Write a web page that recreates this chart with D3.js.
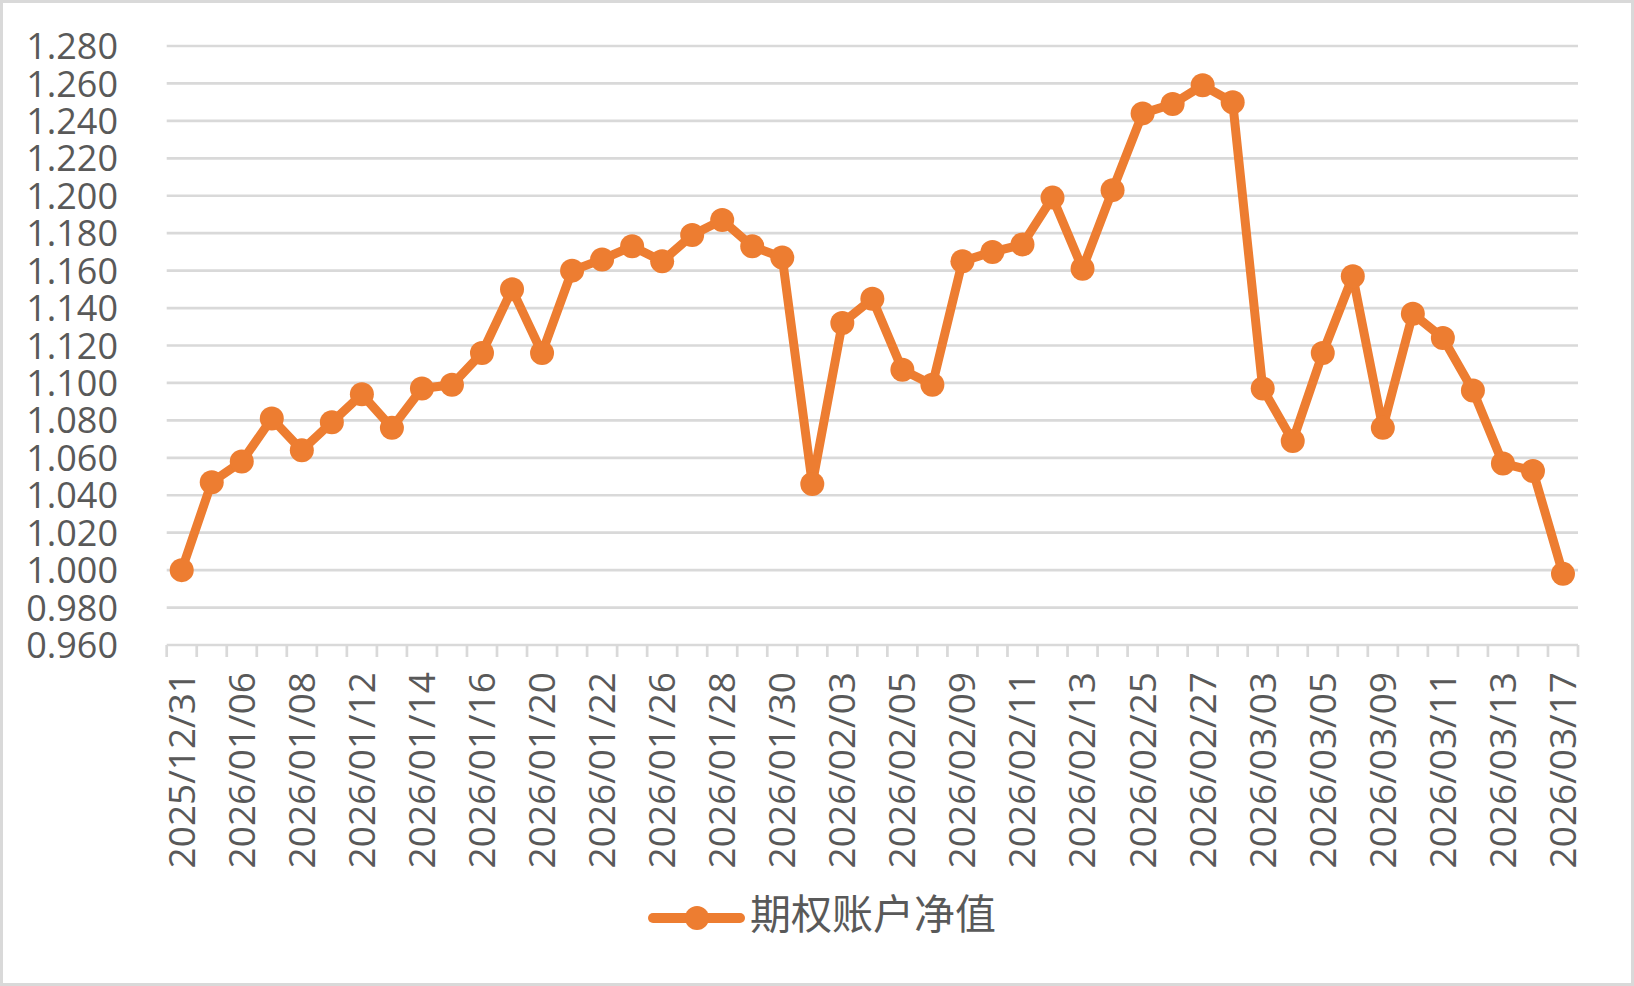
<!DOCTYPE html>
<html>
<head>
<meta charset="utf-8">
<script src="https://cdn.jsdelivr.net/npm/d3@7"></script>
<style>
  html, body { margin: 0; padding: 0; background: #fff; }
  svg { display: block; }
</style>
</head>
<body>
<svg id="chart" width="1634" height="986"></svg>
<script>
const dates = ["2025/12/31","2026/01/05","2026/01/06","2026/01/07","2026/01/08","2026/01/09","2026/01/12","2026/01/13","2026/01/14","2026/01/15","2026/01/16","2026/01/19","2026/01/20","2026/01/21","2026/01/22","2026/01/23","2026/01/26","2026/01/27","2026/01/28","2026/01/29","2026/01/30","2026/02/02","2026/02/03","2026/02/04","2026/02/05","2026/02/06","2026/02/09","2026/02/10","2026/02/11","2026/02/12","2026/02/13","2026/02/24","2026/02/25","2026/02/26","2026/02/27","2026/03/02","2026/03/03","2026/03/04","2026/03/05","2026/03/06","2026/03/09","2026/03/10","2026/03/11","2026/03/12","2026/03/13","2026/03/16","2026/03/17"];
const netValues = [1.000,1.047,1.058,1.081,1.064,1.079,1.094,1.076,1.097,1.099,1.116,1.150,1.116,1.160,1.166,1.173,1.165,1.179,1.187,1.173,1.167,1.046,1.132,1.145,1.107,1.099,1.165,1.170,1.174,1.199,1.161,1.203,1.244,1.249,1.259,1.250,1.097,1.069,1.116,1.157,1.076,1.137,1.124,1.096,1.057,1.053,0.998];
const yTicks = [0.96,0.98,1.00,1.02,1.04,1.06,1.08,1.10,1.12,1.14,1.16,1.18,1.20,1.22,1.24,1.26,1.28];
const seriesName = "期权账户净值";

(function () {
const W = 1634, H = 986;
const pL = 166.7, pR = 1578, pT = 46, pB = 645;
const orange = "#ED7D31", grid = "#D9D9D9", textCol = "#595959";
const latin = "'Open Sans', 'Noto Sans', sans-serif";

const svg = d3.select("#chart");

svg.append("rect").attr("x",1.5).attr("y",1.5).attr("width",W-3).attr("height",H-3)
  .attr("fill","#fff").attr("stroke",grid).attr("stroke-width",3);

const x = d3.scaleBand().domain(dates).range([pL, pR]).padding(0);
const y = d3.scaleLinear().domain([0.96, 1.28]).range([pB, pT]);

svg.append("g").selectAll("line").data(yTicks.slice(1)).join("line")
  .attr("x1", pL).attr("x2", pR)
  .attr("y1", d => y(d)).attr("y2", d => y(d))
  .attr("stroke", grid).attr("stroke-width", 2.7);

const yAxis = d3.axisLeft(y).tickValues(yTicks).tickFormat(d3.format(".3f")).tickSize(0).tickPadding(0);
const gy = svg.append("g").attr("transform", `translate(118,0)`).call(yAxis);
gy.select(".domain").remove();
gy.selectAll("text").attr("fill", textCol).style("font-family", latin).style("font-size","36px").attr("dy","0.35em");

svg.append("line").attr("x1", pL).attr("x2", pR).attr("y1", pB).attr("y2", pB)
  .attr("stroke", grid).attr("stroke-width", 2.7);
const bounds = dates.map(d => x(d)).concat([pR]);
svg.append("g").selectAll("line").data(bounds).join("line")
  .attr("x1", d => d).attr("x2", d => d).attr("y1", pB).attr("y2", pB + 12)
  .attr("stroke", grid).attr("stroke-width", 2.7);

const cx = d => x(d) + x.bandwidth()/2;
svg.append("g").selectAll("text").data(dates.filter((d,i) => i % 2 === 0)).join("text")
  .attr("transform", d => `translate(${cx(d)},672) rotate(-90)`)
  .attr("text-anchor","end").attr("dy","0.35em")
  .attr("fill", textCol).style("font-family", latin).style("font-size","37px")
  .text(d => d);

const line = d3.line().x((d,i) => cx(dates[i])).y(d => y(d));
svg.append("path").datum(netValues).attr("d", line)
  .attr("fill","none").attr("stroke", orange).attr("stroke-width", 9)
  .attr("stroke-linejoin","round").attr("stroke-linecap","round");

svg.append("g").selectAll("circle").data(netValues).join("circle")
  .attr("cx", (d,i) => cx(dates[i])).attr("cy", d => y(d)).attr("r", 12)
  .attr("fill", orange);

const lg = svg.append("g");
lg.append("line").attr("x1", 653).attr("x2", 740).attr("y1", 918).attr("y2", 918)
  .attr("stroke", orange).attr("stroke-width", 10).attr("stroke-linecap","round");
lg.append("circle").attr("cx", 697).attr("cy", 918).attr("r", 12).attr("fill", orange);
lg.append("text").attr("x", 750).attr("y", 914).attr("dy","0.36em")
  .attr("fill", textCol).style("font-family","'Noto Sans CJK SC', sans-serif").style("font-size","41px")
  .text(seriesName);
})();
</script>
</body>
</html>
